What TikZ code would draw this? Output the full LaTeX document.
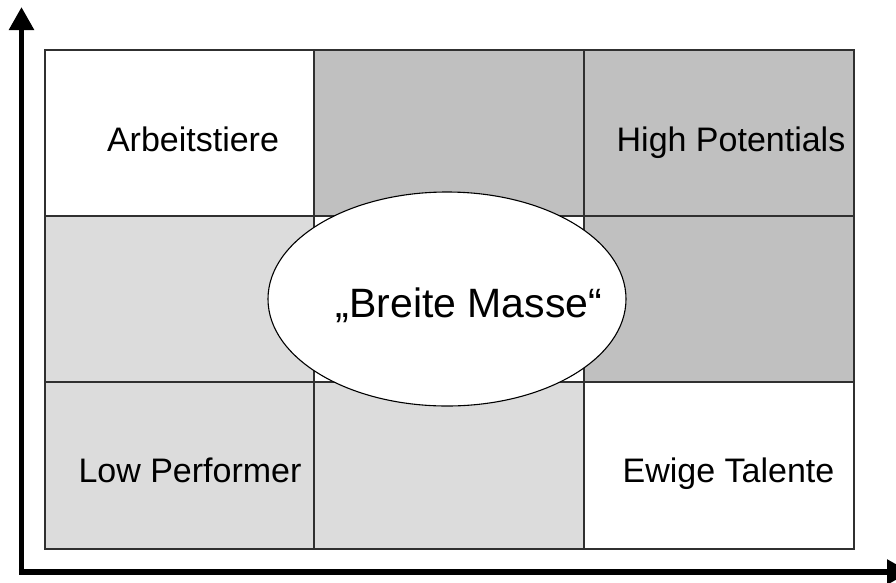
\documentclass[tikz,border=0pt]{standalone}
\usepackage{fontspec}
\setmainfont{Liberation Sans}
\usetikzlibrary{arrows.meta}
\definecolor{cdark}{HTML}{C0C0C0}
\definecolor{clight}{HTML}{DCDCDC}
\definecolor{cline}{HTML}{303030}
\tikzset{
  cell/.style={draw=cline, line width=1.1pt},
  axisline/.style={line width=5.5pt, -{Triangle[length=23pt,width=24pt]}},
  lbl/.style={anchor=base, inner sep=0pt, font=\fontsize{34}{40}\selectfont},
  biglbl/.style={anchor=base, inner sep=0pt, font=\fontsize{41}{48}\selectfont},
  blob/.style={draw=black, line width=1.1pt, fill=white}
}
\begin{document}
\begin{tikzpicture}[x=1pt,y=-1pt]
\useasboundingbox (0,0) rectangle (896,582);
% grid cells
\filldraw[cell, fill=white]  (45,50) rectangle (314,216);
\filldraw[cell, fill=cdark]  (314,50) rectangle (584,216);
\filldraw[cell, fill=cdark]  (584,50) rectangle (854,216);
\filldraw[cell, fill=clight] (45,216) rectangle (314,382);
\filldraw[cell, fill=white]  (314,216) rectangle (584,382);
\filldraw[cell, fill=cdark]  (584,216) rectangle (854,382);
\filldraw[cell, fill=clight] (45,382) rectangle (314,549);
\filldraw[cell, fill=clight] (314,382) rectangle (584,549);
\filldraw[cell, fill=white]  (584,382) rectangle (854,549);
% ellipse
\draw[blob] (447,299) ellipse [x radius=179, y radius=107];
% labels
\node[lbl] (arb) at (193,151) {Arbeitstiere};
\node[lbl] (hp) at (731,151) {High Potentials};
\node[lbl] (lp) at (190,482) {Low Performer};
\node[lbl] (ewt) at (728.5,482) {Ewige Talente};
\node[biglbl] (bm) at (469,317) {„Breite Masse“};
% axes
\coordinate (O) at (21.5,572);
\coordinate (Ostart) at (21.5,574.75);
\coordinate (Xstart) at (18.75,572);
\coordinate (ytip) at (21.5,7);
\coordinate (xtip) at (910,572);
\draw[axisline] (Ostart) -- (ytip);
\draw[axisline] (Xstart) -- (xtip);
\end{tikzpicture}
\end{document}
